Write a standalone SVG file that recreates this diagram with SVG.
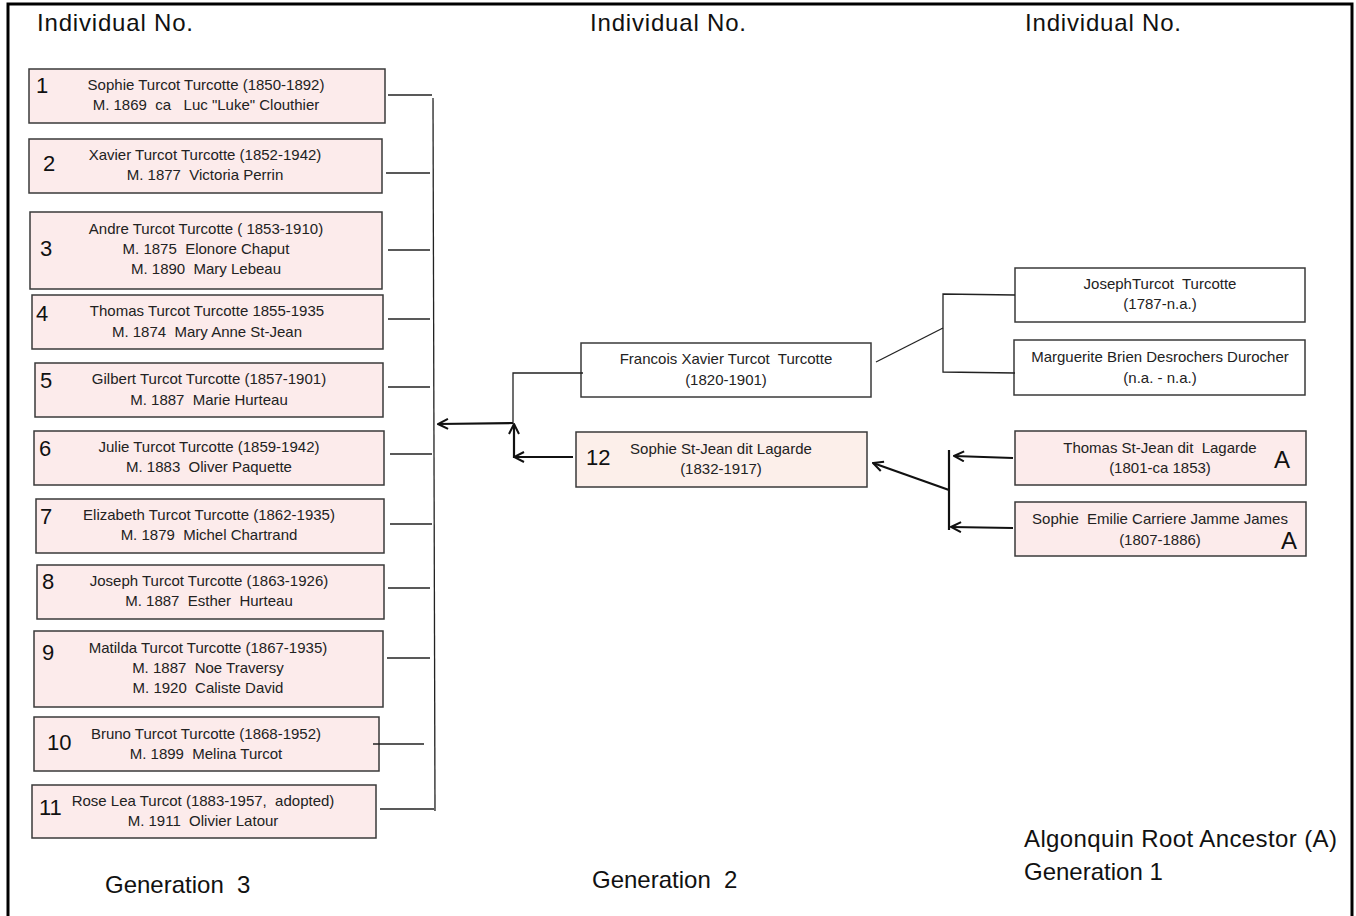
<svg xmlns="http://www.w3.org/2000/svg" width="1356" height="916" viewBox="0 0 1356 916" xml:space="preserve">
<defs>
<style>
text{white-space:pre}
.bx{stroke:#3a3a3a;stroke-width:1.5}
.pk{fill:#fcebeb}
.pc{fill:#fcefea}
.wh{fill:#ffffff}
.t{font-family:"Liberation Sans",Arial,sans-serif;font-size:15px;fill:#222;text-anchor:middle}
.n{font-family:"Liberation Sans",Arial,sans-serif;font-size:22px;fill:#111}
.h{font-family:"Liberation Sans",Arial,sans-serif;font-size:24px;fill:#111}
.ln{stroke:#222;stroke-width:1.3;fill:none}
.ar{stroke:#111;stroke-width:2.2;fill:none}
</style>
<marker id="ah" viewBox="0 0 12 12" refX="11" refY="6" markerWidth="12" markerHeight="12" markerUnits="userSpaceOnUse" orient="auto">
<path d="M1,1 L11,6 L1,11" fill="none" stroke="#111" stroke-width="2"/>
</marker>
</defs>
<rect width="1356" height="916" fill="#ffffff"/>
<path d="M8,916 V4 H1352 V916" fill="none" stroke="#000" stroke-width="3"/>

<g id="headers">
<text class="h" x="37" y="31" textLength="156">Individual No.</text>
<text class="h" x="590" y="31" textLength="156">Individual No.</text>
<text class="h" x="1025" y="31" textLength="156">Individual No.</text>
<text class="h" x="105" y="893">Generation  3</text>
<text class="h" x="592" y="888">Generation  2</text>
<text class="h" x="1024" y="847" textLength="313">Algonquin Root Ancestor (A)</text>
<text class="h" x="1024" y="880">Generation 1</text>
</g>

<g id="n1"><rect class="bx pk" x="29" y="69" width="356" height="54"/><text class="n" x="36" y="93">1</text><text class="t" x="206" y="90">Sophie Turcot Turcotte (1850-1892)</text><text class="t" x="206" y="110">M. 1869  ca   Luc "Luke" Clouthier</text></g>
<g id="n2"><rect class="bx pk" x="29" y="139" width="353" height="54"/><text class="n" x="43" y="171">2</text><text class="t" x="205" y="160">Xavier Turcot Turcotte (1852-1942)</text><text class="t" x="205" y="180">M. 1877  Victoria Perrin</text></g>
<g id="n3"><rect class="bx pk" x="30" y="212" width="352" height="77"/><text class="n" x="40" y="256">3</text><text class="t" x="206" y="234">Andre Turcot Turcotte ( 1853-1910)</text><text class="t" x="206" y="254">M. 1875  Elonore Chaput</text><text class="t" x="206" y="274">M. 1890  Mary Lebeau</text></g>
<g id="n4"><rect class="bx pk" x="32" y="295" width="351" height="54"/><text class="n" x="36" y="321">4</text><text class="t" x="207" y="316">Thomas Turcot Turcotte 1855-1935</text><text class="t" x="207" y="337">M. 1874  Mary Anne St-Jean</text></g>
<g id="n5"><rect class="bx pk" x="35" y="363" width="348" height="54"/><text class="n" x="40" y="388">5</text><text class="t" x="209" y="384">Gilbert Turcot Turcotte (1857-1901)</text><text class="t" x="209" y="405">M. 1887  Marie Hurteau</text></g>
<g id="n6"><rect class="bx pk" x="34" y="431" width="350" height="54"/><text class="n" x="39" y="456">6</text><text class="t" x="209" y="452">Julie Turcot Turcotte (1859-1942)</text><text class="t" x="209" y="472">M. 1883  Oliver Paquette</text></g>
<g id="n7"><rect class="bx pk" x="36" y="499" width="348" height="54"/><text class="n" x="40" y="524">7</text><text class="t" x="209" y="520">Elizabeth Turcot Turcotte (1862-1935)</text><text class="t" x="209" y="540">M. 1879  Michel Chartrand</text></g>
<g id="n8"><rect class="bx pk" x="37" y="565" width="347" height="54"/><text class="n" x="42" y="589">8</text><text class="t" x="209" y="586">Joseph Turcot Turcotte (1863-1926)</text><text class="t" x="209" y="606">M. 1887  Esther  Hurteau</text></g>
<g id="n9"><rect class="bx pk" x="34" y="631" width="349" height="76"/><text class="n" x="42" y="660">9</text><text class="t" x="208" y="653">Matilda Turcot Turcotte (1867-1935)</text><text class="t" x="208" y="673">M. 1887  Noe Traversy</text><text class="t" x="208" y="693">M. 1920  Caliste David</text></g>
<g id="n10"><rect class="bx pk" x="34" y="717" width="345" height="54"/><text class="n" x="47" y="750">10</text><text class="t" x="206" y="739">Bruno Turcot Turcotte (1868-1952)</text><text class="t" x="206" y="759">M. 1899  Melina Turcot</text></g>
<g id="n11"><rect class="bx pk" x="32" y="785" width="344" height="53"/><text class="n" x="39" y="815">11</text><text class="t" x="203" y="806">Rose Lea Turcot (1883-1957,  adopted)</text><text class="t" x="203" y="826">M. 1911  Olivier Latour</text></g>

<g id="n_fx"><rect class="bx wh" x="581" y="343" width="290" height="54"/><text class="t" x="726" y="364">Francois Xavier Turcot  Turcotte</text><text class="t" x="726" y="385">(1820-1901)</text></g>
<g id="n12"><rect class="bx pc" x="576" y="432" width="291" height="55"/><text class="n" x="586" y="465">12</text><text class="t" x="721" y="454">Sophie St-Jean dit Lagarde</text><text class="t" x="721" y="474">(1832-1917)</text></g>

<g id="n_joseph"><rect class="bx wh" x="1015" y="268" width="290" height="54"/><text class="t" x="1160" y="289">JosephTurcot  Turcotte</text><text class="t" x="1160" y="309">(1787-n.a.)</text></g>
<g id="n_marg"><rect class="bx wh" x="1014" y="340" width="291" height="55"/><text class="t" x="1160" y="362">Marguerite Brien Desrochers Durocher</text><text class="t" x="1160" y="383">(n.a. - n.a.)</text></g>
<g id="n_thomas"><rect class="bx pk" x="1015" y="431" width="291" height="54"/><text class="t" x="1160" y="453">Thomas St-Jean dit  Lagarde</text><text class="t" x="1160" y="473">(1801-ca 1853)</text><text class="n" x="1274" y="468" style="font-size:24px">A</text></g>
<g id="n_sophieE"><rect class="bx pk" x="1015" y="502" width="291" height="54"/><text class="t" x="1160" y="524">Sophie  Emilie Carriere Jamme James</text><text class="t" x="1160" y="545">(1807-1886)</text><text class="n" x="1281" y="549" style="font-size:24px">A</text></g>

<g id="connectors">
<line class="ln" x1="388" y1="95" x2="432" y2="95"/>
<line class="ln" x1="386" y1="173" x2="430" y2="173"/>
<line class="ln" x1="388" y1="250" x2="430" y2="250"/>
<line class="ln" x1="388" y1="319" x2="430" y2="319"/>
<line class="ln" x1="388" y1="387" x2="430" y2="387"/>
<line class="ln" x1="390" y1="454" x2="432" y2="454"/>
<line class="ln" x1="390" y1="524" x2="432" y2="524"/>
<line class="ln" x1="388" y1="588" x2="430" y2="588"/>
<line class="ln" x1="387" y1="658" x2="430" y2="658"/>
<line class="ln" x1="373" y1="744" x2="424" y2="744"/>
<line class="ln" x1="380" y1="809" x2="434" y2="809"/>
<line class="ln" x1="433" y1="98" x2="435" y2="811"/>
<line class="ar" x1="513" y1="423" x2="438" y2="424" marker-end="url(#ah)"/>
<polyline class="ln" points="583,373 513,373 513,423"/>
<line class="ar" x1="514" y1="458" x2="514" y2="424" marker-end="url(#ah)"/>
<line class="ar" x1="573" y1="457" x2="514" y2="457" marker-end="url(#ah)"/>
<polyline class="ln" points="1015,295 943,294 943,372 1015,373"/>
<line class="ln" x1="876" y1="362" x2="943" y2="328"/>
<line class="ar" x1="949" y1="450" x2="949" y2="530"/>
<line class="ar" x1="1013" y1="458" x2="954" y2="456" marker-end="url(#ah)"/>
<line class="ar" x1="1013" y1="528" x2="951" y2="527" marker-end="url(#ah)"/>
<line class="ar" x1="949" y1="490" x2="873" y2="463" marker-end="url(#ah)"/>
</g>
</svg>
